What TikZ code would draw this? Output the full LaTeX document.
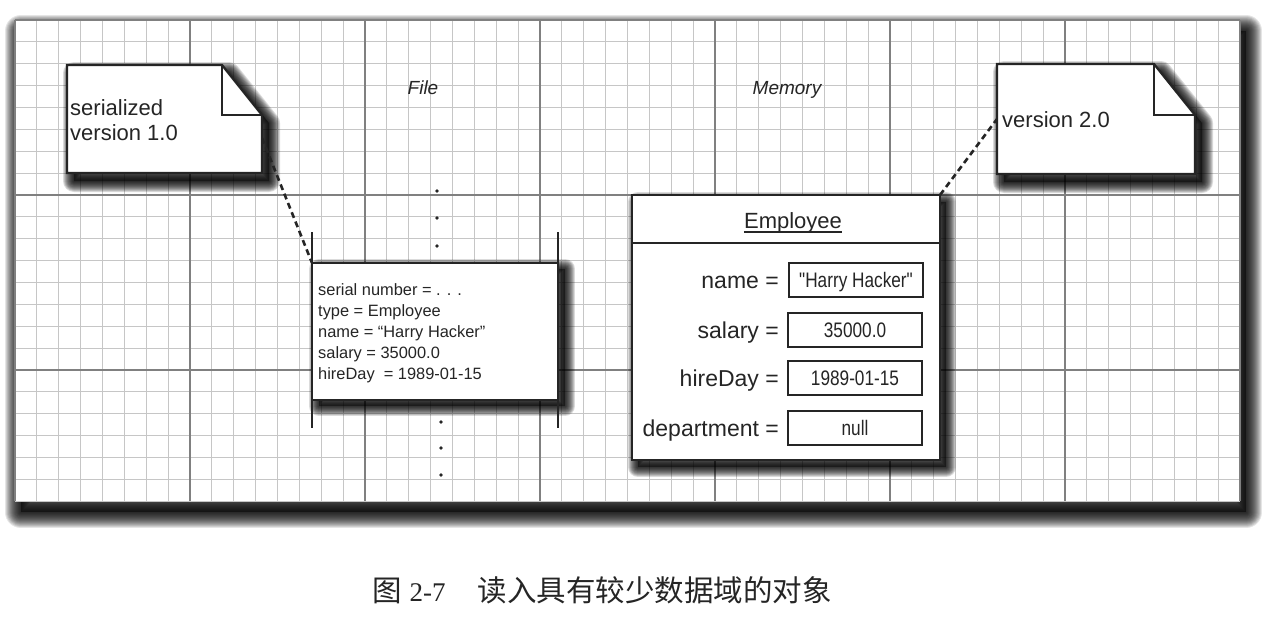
\documentclass[tikz,border=0pt]{standalone}
\usepackage{fontspec}
\setmainfont{Liberation Sans}
\newfontfamily\cjkfont{Noto Sans CJK SC}
\newfontfamily\capserif{Liberation Serif}
\newfontfamily\valfont[FakeStretch=0.82]{Liberation Sans}
\usetikzlibrary{calc}

\pgfdeclarelayer{paper}
\pgfdeclarelayer{sheet}
\pgfdeclarelayer{shade}
\pgfsetlayers{paper,sheet,shade,main}

\definecolor{ink}{HTML}{252525}
\definecolor{gridminor}{HTML}{C6C6C6}
\definecolor{gridmajor}{HTML}{808080}

% soft drop shadow: #1 layer, #2 xshift, #3 yshift, #4 number of blur rings,
% #5 opacity of a ring, #6 path
\newcommand{\castshadow}[6]{%
  \begin{pgfonlayer}{#1}
  \begin{scope}[transform canvas={xshift=#2,yshift=#3}]
    \fill[black, fill opacity=0.45] #6;
    \foreach \w in {1,...,#4}
      \draw[black, draw opacity=#5, line join=round, line width={2*\w*1pt}] #6;
  \end{scope}
  \end{pgfonlayer}}

\tikzset{
  minorline/.style={draw=gridminor, line width=0.8pt},
  majorline/.style={draw=gridmajor, line width=1.3pt},
  notearea/.style={rectangle, inner sep=0pt, outer sep=0pt},
  notebody/.style={draw=ink, line width=2.3pt, fill=white, line join=miter},
  notefold/.style={draw=ink, line width=2.3pt, line join=miter},
  notetext/.style={inner sep=0pt, text=ink, align=left,
      font=\fontsize{22}{25}\selectfont},
  hdr/.style={inner sep=0pt, text=ink, anchor=base,
      font=\itshape\fontsize{19}{22}\selectfont},
  record/.style={draw=ink, line width=2pt, fill=white, inner sep=0pt, outer sep=0pt,
      minimum width=246pt, minimum height=137pt},
  recordtext/.style={inner sep=0pt, text=ink, align=left, anchor=north west,
      font=\fontsize{16.4}{21}\selectfont},
  objbox/.style={draw=ink, line width=2.5pt, fill=white, inner sep=0pt, outer sep=0pt,
      minimum width=308pt, minimum height=265pt},
  fieldlabel/.style={inner sep=0pt, text=ink, anchor=base east,
      font=\fontsize{23}{26}\selectfont},
  valbox/.style={draw=ink, line width=2pt, fill=white, inner sep=0pt,
      minimum width=134pt, minimum height=34pt, text height=15pt, text depth=0pt,
      text=ink, font=\valfont\fontsize{21}{24}\selectfont},
  dotmark/.style={circle, fill=ink, inner sep=0pt, minimum size=3.6pt},
  link/.style={draw=ink, line width=2.6pt, dash pattern=on 6pt off 4pt}
}

\begin{document}
\begin{tikzpicture}[x=1pt,y=-1pt]
\useasboundingbox (0,0) rectangle (1280,624);

% page and sheet of grid paper
\begin{pgfonlayer}{paper}
\fill[white] (0,0) rectangle (1280,624);
\end{pgfonlayer}
\castshadow{paper}{6pt}{-11pt}{16}{0.1}{(15,20) rectangle (1240,501.25)}
\begin{pgfonlayer}{sheet}
\fill[white] (15,20) rectangle (1240,501.25);
\foreach \k in {0,...,56}
  \draw[minorline] ({15+\k*21.875},20) -- ({15+\k*21.875},501.25);
\foreach \k in {0,...,22}
  \draw[minorline] (15,{20+\k*21.875}) -- (1240,{20+\k*21.875});
\foreach \k in {0,...,7}
  \draw[majorline] ({15+\k*175},20) -- ({15+\k*175},501.25);
\foreach \yy in {20,195,370}
  \draw[majorline] (15,\yy) -- (1240,\yy);
\end{pgfonlayer}

% column headings
\node[hdr] (filelbl) at (423,94) {File};
\node[hdr] (memlbl) at (787,94) {Memory};

% placement of the two version notes
\node[notearea, minimum width=195pt, minimum height=108pt] (n1) at (164.5,119) {};
\node[notearea, minimum width=198pt, minimum height=110pt] (n2) at (1096,119) {};

% serialized record in the file
\node[record] (rec) at (435,331.5) {};
\draw[ink, line width=2pt] ([yshift=31pt]rec.north west) -- ([yshift=-28pt]rec.south west);
\draw[ink, line width=2pt] ([yshift=31pt]rec.north east) -- ([yshift=-28pt]rec.south east);
\node[recordtext] (rectext) at (318,283.3)
  {serial number = . . .\\
   type = Employee\\
   name = “Harry Hacker”\\
   salary = 35000.0\\
   hireDay\ \ = 1989-01-15};

% continuation dots of the file
\node[dotmark] (up1) at (437,191) {};
\node[dotmark] (up2) at (437,218) {};
\node[dotmark] (up3) at (437,246) {};
\node[dotmark] (dn1) at (441,422) {};
\node[dotmark] (dn2) at (441,448) {};
\node[dotmark] (dn3) at (441,475) {};

% Employee object in memory
\node[objbox] (emp) at (786,327.5) {};
\draw[ink, line width=2.3pt] ([yshift=-48pt]emp.north west) -- ([yshift=-48pt]emp.north east);
\node[inner sep=0pt, anchor=base, text=ink, font=\fontsize{22}{26}\selectfont]
  (title) at (793,228) {Employee};
\draw[ink, line width=1.3pt] ([yshift=-4pt]title.base west) -- ([yshift=-4pt]title.base east);

\node[fieldlabel] (lname) at (779,288) {name =};
\node[fieldlabel] (lsal)  at (779,338) {salary =};
\node[fieldlabel] (lhire) at (779,386) {hireDay =};
\node[fieldlabel] (ldept) at (779,436) {department =};
\node[valbox] (vname) at (856,279.5) {"Harry Hacker"};
\node[valbox] (vsal)  at (855,329.5) {35000.0};
\node[valbox] (vhire) at (855,377.5) {1989-01-15};
\node[valbox] (vdept) at (855,428)   {null};

% dashed links from the notes
\draw[link] ([yshift=-19pt]n1.east) -- (rec.north west);
\draw[link] (emp.north east) -- (n2.west);

% version notes with folded corner
\castshadow{shade}{7pt}{-8pt}{11}{0.14}{(n1.south west) -- (n1.north west) -- ([xshift=-40pt]n1.north east)
  -- ([yshift=-50pt]n1.north east) -- (n1.south east) -- cycle}
\path[notebody] (n1.south west) -- (n1.north west) -- ([xshift=-40pt]n1.north east)
  -- ([yshift=-50pt]n1.north east) -- (n1.south east) -- cycle;
\draw[notefold] ([xshift=-40pt]n1.north east) -- ([xshift=-40pt,yshift=-50pt]n1.north east)
  -- ([yshift=-50pt]n1.north east);
\node[notetext, anchor=north west] (n1text) at (70,99) {serialized\\version 1.0};

\castshadow{shade}{7pt}{-8pt}{11}{0.14}{(n2.south west) -- (n2.north west) -- ([xshift=-41pt]n2.north east)
  -- ([yshift=-51pt]n2.north east) -- (n2.south east) -- cycle}
\path[notebody] (n2.south west) -- (n2.north west) -- ([xshift=-41pt]n2.north east)
  -- ([yshift=-51pt]n2.north east) -- (n2.south east) -- cycle;
\draw[notefold] ([xshift=-41pt]n2.north east) -- ([xshift=-41pt,yshift=-51pt]n2.north east)
  -- ([yshift=-51pt]n2.north east);
\node[notetext, anchor=base west] (n2text) at (1002,127) {version 2.0};

% shadows of the record and the object box
\castshadow{shade}{7pt}{-6pt}{10}{0.14}{(rec.north west) rectangle (rec.south east)}
\castshadow{shade}{6pt}{-7pt}{10}{0.14}{(emp.north west) rectangle (emp.south east)}

% caption
\node[inner sep=0pt, anchor=base west, text=ink] (cap) at (372,601)
  {{\cjkfont\fontsize{29.5}{32}\selectfont 图}\hspace{8pt}{\capserif\fontsize{27}{30}\selectfont 2-7}\hspace{32pt}{\cjkfont\fontsize{29.5}{32}\selectfont 读入具有较少数据域的对象}};
\end{tikzpicture}
\end{document}
